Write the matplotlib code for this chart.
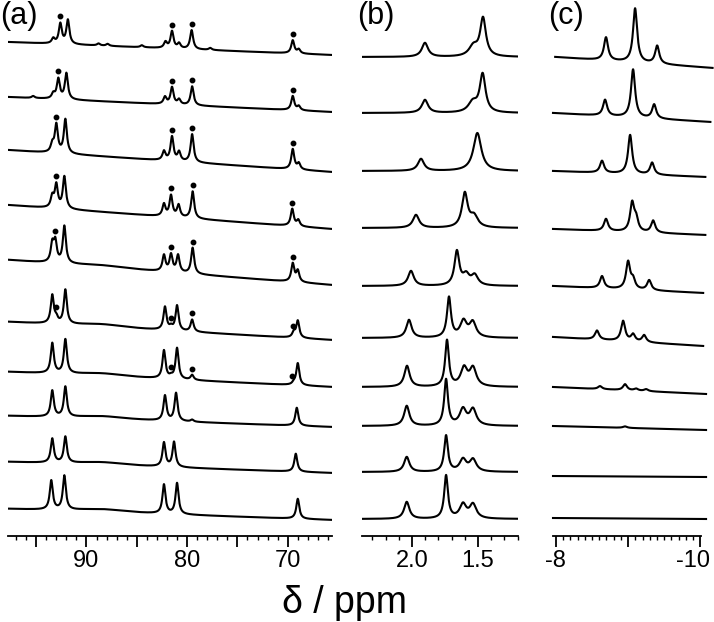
import numpy as np
import matplotlib
matplotlib.use("Agg")
import matplotlib.pyplot as plt
from matplotlib.ticker import FixedLocator, MultipleLocator
from matplotlib.transforms import ScaledTranslation

plt.rcParams['font.family'] = ['Liberation Sans', 'DejaVu Sans']

# vertical positions are in pixels above the shared axis line (y = 536 px)
AXIS_Y = 536

# ---- panel (a) : peak tables (ppm, height) for each trace, top to bottom
a_base_left = [42, 97, 150, 205, 260, 322, 372, 416, 462, 509]
a_base_right = [55, 112, 172, 229, 285, 340, 387, 427, 473, 520]
a_peaks = [
    [(93.3, 5), (92.6, 20), (91.85, 24), (82.15, 6), (81.5, 17), (80.8, 5), (79.55, 19),
     (69.5, 13), (68.9, 4), (88.8, 2), (87.9, 2), (84.5, 2), (77.7, 2)],
    [(93.3, 5), (92.8, 20), (92.0, 26), (82.2, 7), (81.5, 17), (80.8, 5), (79.5, 19),
     (69.5, 14), (68.9, 4), (95.3, 2)],
    [(93.4, 8), (93.0, 28), (92.1, 34), (82.3, 9), (81.5, 24), (80.8, 9), (79.5, 28),
     (69.5, 20), (68.9, 6)],
    [(93.4, 11), (93.0, 23), (92.2, 32), (82.3, 12), (81.6, 21), (80.85, 12), (79.45, 27),
     (69.55, 17), (68.95, 6)],
    [(93.4, 18), (93.1, 20), (92.2, 37), (82.3, 16), (81.6, 17), (80.9, 17), (79.45, 26),
     (69.5, 18), (69.0, 11)],
    [(93.4, 28), (93.0, 5), (92.1, 34), (82.2, 23), (81.6, 3), (81.0, 25), (79.5, 12),
     (69.4, 5), (69.0, 17)],
    [(93.4, 30), (92.1, 34), (82.3, 28), (81.6, 2), (81.0, 31), (79.5, 5), (69.4, 2), (69.0, 22)],
    [(93.4, 26), (92.1, 30), (82.2, 25), (81.1, 28), (79.5, 2), (69.1, 18)],
    [(93.4, 24), (92.1, 26), (82.3, 24), (81.3, 25), (69.2, 18)],
    [(93.5, 29), (92.2, 34), (82.3, 29), (81.0, 31), (69.0, 20)],
]
a_hump = [0, 0, 0, 0, 2, 3, 3, 3, 3, 3]
a_dots = [
    [92.6, 81.5, 79.55, 69.5],
    [92.8, 81.5, 79.5, 69.5],
    [93.0, 81.5, 79.5, 69.5],
    [93.0, 81.6, 79.45, 69.55],
    [93.1, 81.6, 79.45, 69.5],
    [93.0, 81.6, 79.5, 69.5],
    [81.6, 79.5, 69.6],
    [], [], [],
]

# ---- panel (b) : (ppm, height, hwhm)
b_base = [57, 113, 171, 228, 286, 338, 387, 426, 472, 519]
b_peaks = [
    [(1.902, 14, 0.028), (1.535, 10, 0.04), (1.462, 38, 0.026)],
    [(1.902, 13, 0.028), (1.54, 10, 0.04), (1.465, 38, 0.026)],
    [(1.932, 12, 0.028), (1.505, 38, 0.036)],
    [(1.970, 13, 0.028), (1.60, 34, 0.026), (1.53, 11, 0.035)],
    [(2.008, 15, 0.026), (1.66, 34, 0.022), (1.59, 10, 0.03), (1.525, 10, 0.03)],
    [(2.023, 18, 0.024), (1.72, 40, 0.018), (1.61, 16, 0.03), (1.54, 15, 0.03)],
    [(2.038, 21, 0.024), (1.735, 46, 0.017), (1.606, 18, 0.03), (1.538, 18, 0.03)],
    [(2.04, 20, 0.024), (1.742, 46, 0.017), (1.614, 16, 0.03), (1.538, 16, 0.03)],
    [(2.04, 15, 0.024), (1.742, 36, 0.017), (1.614, 12, 0.03), (1.538, 12, 0.03)],
    [(2.04, 17, 0.024), (1.742, 43, 0.017), (1.614, 14, 0.03), (1.538, 14, 0.03)],
]

# ---- panel (c) : (ppm, height)
c_base_left = [57, 113, 171, 229, 286, 337, 387, 426, 476, 518]
c_base_right = [68, 122, 177, 235, 293, 346, 394, 430, 477, 519]
c_start = [-7.99, -7.96, -7.96, -7.96, -7.96, -7.96, -7.96, -7.96, -7.96, -7.96]
c_end = [-10.17, -10.14, -10.07, -10.07, -10.04, -10.04, -10.08, -10.08, -10.08, -10.08]
c_peaks = [
    [(-8.694, 23), (-9.097, 54), (-9.403, 18)],
    [(-8.681, 16), (-9.069, 48), (-9.361, 14)],
    [(-8.639, 12), (-9.028, 39), (-9.333, 12)],
    [(-8.694, 12), (-9.056, 28), (-9.111, 12), (-9.347, 12)],
    [(-8.639, 12), (-9.0, 27), (-9.069, 9), (-9.292, 10)],
    [(-8.569, 9), (-8.931, 20), (-9.069, 7), (-9.222, 7)],
    [(-8.611, 3), (-8.958, 6), (-9.111, 2), (-9.25, 2)],
    [(-8.958, 1.5)],
    [], [],
]


def lorentz(x, peaks, w):
    y = np.zeros_like(x)
    for p in peaks:
        pos, h = p[0], p[1]
        hw = p[2] if len(p) > 2 else w
        y += h * hw**2 / ((x - pos)**2 + hw**2)
    return y


def style_axis(ax, xlim):
    ax.set_xlim(*xlim)
    ax.set_ylim(0, AXIS_Y)
    for s in ['left', 'right', 'top']:
        ax.spines[s].set_visible(False)
    ax.spines['bottom'].set_linewidth(1.3)
    ax.set_yticks([])
    ax.patch.set_alpha(0)
    ax.tick_params(axis='x', which='major', length=8, width=1.3, labelsize=17, pad=2)
    ax.tick_params(axis='x', which='minor', length=3, width=1.0)


fig = plt.figure(figsize=(7.14, 6.22), dpi=100)
bot = 1 - AXIS_Y / 622
ht = AXIS_Y / 622
lw = 1.5

# (a)
axa = fig.add_axes([8 / 714, bot, 324 / 714, ht])
xa = np.linspace(97.8, 65.6, 3000)
for i in range(10):
    base = AXIS_Y - np.interp(xa, [65.6, 97.8], [a_base_right[i], a_base_left[i]])
    spec = lorentz(xa, a_peaks[i], 0.18) + lorentz(xa, [(88.5, a_hump[i], 3.0)], 3.0)
    axa.plot(xa, base + spec, color='black', lw=lw)
    for d in a_dots[i]:
        yd = np.interp(d, xa[::-1], (base + spec)[::-1]) + 6
        axa.plot(d, yd, 'o', color='black', ms=3.2)
style_axis(axa, (97.8, 65.6))
axa.xaxis.set_major_locator(FixedLocator([95, 90, 85, 80, 75, 70]))
axa.set_xticklabels(['', '90', '', '80', '', '70'])
axa.xaxis.set_minor_locator(MultipleLocator(1))

# (b)
axb = fig.add_axes([362 / 714, bot, 156 / 714, ht])
xb = np.linspace(2.379, 1.197, 2000)
for i in range(10):
    axb.plot(xb, AXIS_Y - b_base[i] + lorentz(xb, b_peaks[i], 0.02), color='black', lw=lw)
style_axis(axb, (2.379, 1.197))
axb.xaxis.set_major_locator(FixedLocator([2.0, 1.5]))
axb.set_xticklabels(['2.0', '1.5'])
axb.xaxis.set_minor_locator(MultipleLocator(0.1))

# (c)
axc = fig.add_axes([553 / 714, bot, 148 / 714, ht])
for i in range(10):
    xc = np.linspace(c_start[i], c_end[i], 2000)
    base = AXIS_Y - np.interp(xc, [c_end[i], c_start[i]], [c_base_right[i], c_base_left[i]])
    axc.plot(xc, base + lorentz(xc, c_peaks[i], 0.034), color='black', lw=lw, clip_on=False)
style_axis(axc, (-7.96, -10.01))
axc.xaxis.set_major_locator(FixedLocator([-8, -9, -10]))
axc.set_xticklabels(['-8', '', '-10'])
axc.xaxis.set_minor_locator(MultipleLocator(0.1))
fig.canvas.draw()
lab10 = axc.get_xticklabels()[2]
lab10.set_transform(lab10.get_transform() + ScaledTranslation(-7 / 100, 0, fig.dpi_scale_trans))

for lab, x in [('(a)', 0), ('(b)', 357), ('(c)', 548)]:
    fig.text(x / 714, 1 - 1 / 622, lab, fontsize=22, ha='left', va='top')

fig.text(345 / 714, 9 / 622, 'δ / ppm', fontsize=27, ha='center', va='baseline')

fig.savefig('out.png', dpi=100)
